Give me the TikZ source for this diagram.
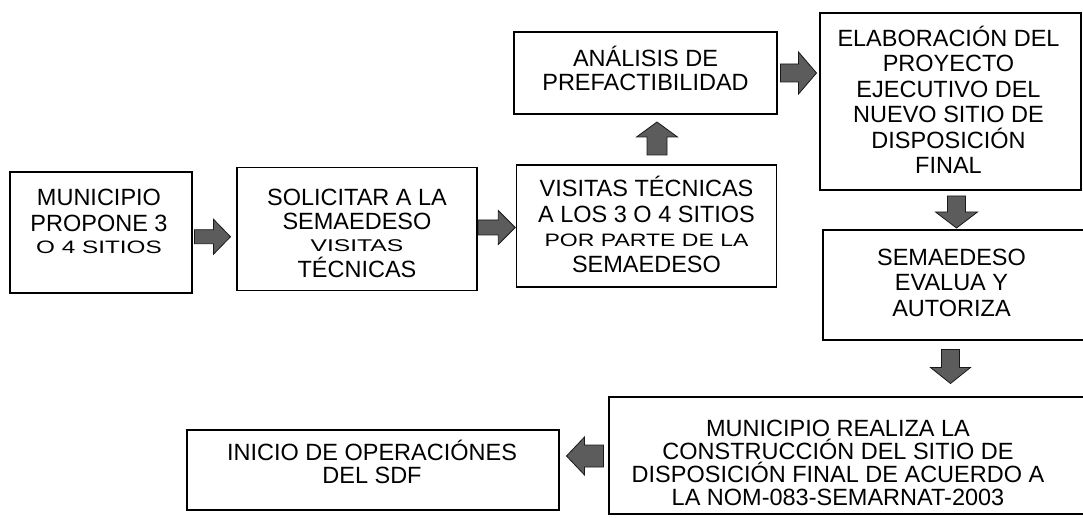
\documentclass[tikz,border=0pt]{standalone}
\usepackage{fontspec}
\setmainfont{Liberation Sans}
\usepackage{graphicx}
\usetikzlibrary{calc}
\newcommand{\widetxt}[3]{\scalebox{#1}[1]{\fontsize{#2}{#2}\selectfont #3}}
\newcommand{\tightlines}{\lineskiplimit=-50pt\relax}
\newcommand{\strutA}{\rule{0pt}{20pt}}
\tikzset{
  box/.style={draw=black, line width=1.1pt, inner sep=0pt},
  txt/.style={anchor=north, align=center, inner sep=0pt},
  arrowfill/.style={fill=black!64, draw=black!90, line width=0.8pt},
  pics/barrow/.style args={#1/#2/#3/#4}{code={%
    \filldraw[arrowfill] ({-#1/2},{-#2/2}) -- ({#1/2-#4},{-#2/2}) -- ({#1/2-#4},{-#3/2})
      -- ({#1/2},0) -- ({#1/2-#4},{#3/2}) -- ({#1/2-#4},{#2/2}) -- ({-#1/2},{#2/2}) -- cycle;}}
}
\begin{document}
\begin{tikzpicture}[x=1pt,y=-1pt]
\useasboundingbox (0,0) rectangle (1083,518);
\clip (0,0) rectangle (1083,518);
% boxes
\node[box, minimum width=182pt, minimum height=121pt] (mun) at (101,232.5) {};
\node[box, minimum width=240pt, minimum height=123pt] (sol) at (357,229) {};
\node[box, minimum width=260pt, minimum height=122pt] (vis) at (646.5,226) {};
\node[box, minimum width=263pt, minimum height=82pt] (ana) at (645.5,73) {};
\node[box, minimum width=261pt, minimum height=177pt] (ela) at (950.5,101.5) {};
\node[box, minimum width=263pt, minimum height=110pt] (sem) at (954.5,285) {};
\node[box, minimum width=478pt, minimum height=117pt] (rea) at (848,455.5) {};
\node[box, minimum width=372pt, minimum height=80pt] (ini) at (373,470) {};
% texts
\node[txt, font=\fontsize{23.5}{26}\selectfont\tightlines] (munt) at ($(mun.north)+(-2,13.4)$)
  {\strutA MUNICIPIO\\PROPONE 3\\[-4pt]\widetxt{1.35}{18}{O 4 SITIOS}};
\node[txt, font=\fontsize{23.5}{24}\selectfont\tightlines] (solt) at ($(sol.north)+(0,18.4)$)
  {\strutA SOLICITAR A LA\\SEMAEDESO\\[-2pt]\widetxt{1.45}{17}{VISITAS}\\[2pt]TÉCNICAS};
\node[txt, font=\fontsize{23.5}{26}\selectfont\tightlines] (vist) at ($(vis.north)+(0,11.4)$)
  {\strutA VISITAS TÉCNICAS\\A LOS 3 O 4 SITIOS\\[-2pt]\widetxt{1.28}{18}{POR PARTE DE LA}\\[0pt]SEMAEDESO};
\node[txt, font=\fontsize{23.5}{24}\selectfont\tightlines] (anat) at ($(ana.north)+(0,14.4)$)
  {\strutA ANÁLISIS DE\\PREFACTIBILIDAD};
\node[txt, font=\fontsize{23.5}{25.4}\selectfont\tightlines] (elat) at ($(ela.north)+(-2,13.4)$)
  {\strutA ELABORACIÓN DEL\\PROYECTO\\EJECUTIVO DEL\\NUEVO SITIO DE\\DISPOSICIÓN\\FINAL};
\node[txt, font=\fontsize{23.5}{25.5}\selectfont\tightlines] (semt) at ($(sem.north)+(-3,15.4)$)
  {\strutA SEMAEDESO\\EVALUA Y\\AUTORIZA};
\node[txt, font=\fontsize{23.5}{23}\selectfont\tightlines] (reat) at ($(rea.north)+(-10,19.4)$)
  {\strutA MUNICIPIO REALIZA LA\\CONSTRUCCIÓN DEL SITIO DE\\DISPOSICIÓN FINAL DE ACUERDO A\\LA NOM-083-SEMARNAT-2003};
\node[txt, font=\fontsize{23.5}{23}\selectfont\tightlines] (init) at ($(ini.north)+(-1,10.4)$)
  {\strutA INICIO DE OPERACIÓNES\\DEL SDF};
% block arrows between boxes
\pic (a1) at ($(mun.east)!0.5!(sol.west)+(-2,6)$) {barrow=36/14/35/17};
\pic (a2) at ($(sol.east)!0.5!(vis.west)$) {barrow=37/15/34/17};
\pic[rotate=90] (a3) at ($(vis.north)!0.5!(ana.south)+(11,-1)$) {barrow=33/20/41/15};
\pic (a4) at ($(ana.east)!0.5!(ela.west |- ana.east)$) {barrow=36/18/42/18};
\pic[rotate=-90] (a5) at ($(ela.south)!0.5!(sem.north)+(4,2)$) {barrow=32/18/42/16};
\pic[rotate=-90] (a6) at ($(sem.south)!0.5!(sem.south |- rea.north)+(-4,-2)$) {barrow=34/18/40/16};
\pic[rotate=180] (a7) at ($(ini.east)!0.5!(rea.west |- ini.east)+(1,-14)$) {barrow=37/22/38/18};
\end{tikzpicture}
\end{document}
